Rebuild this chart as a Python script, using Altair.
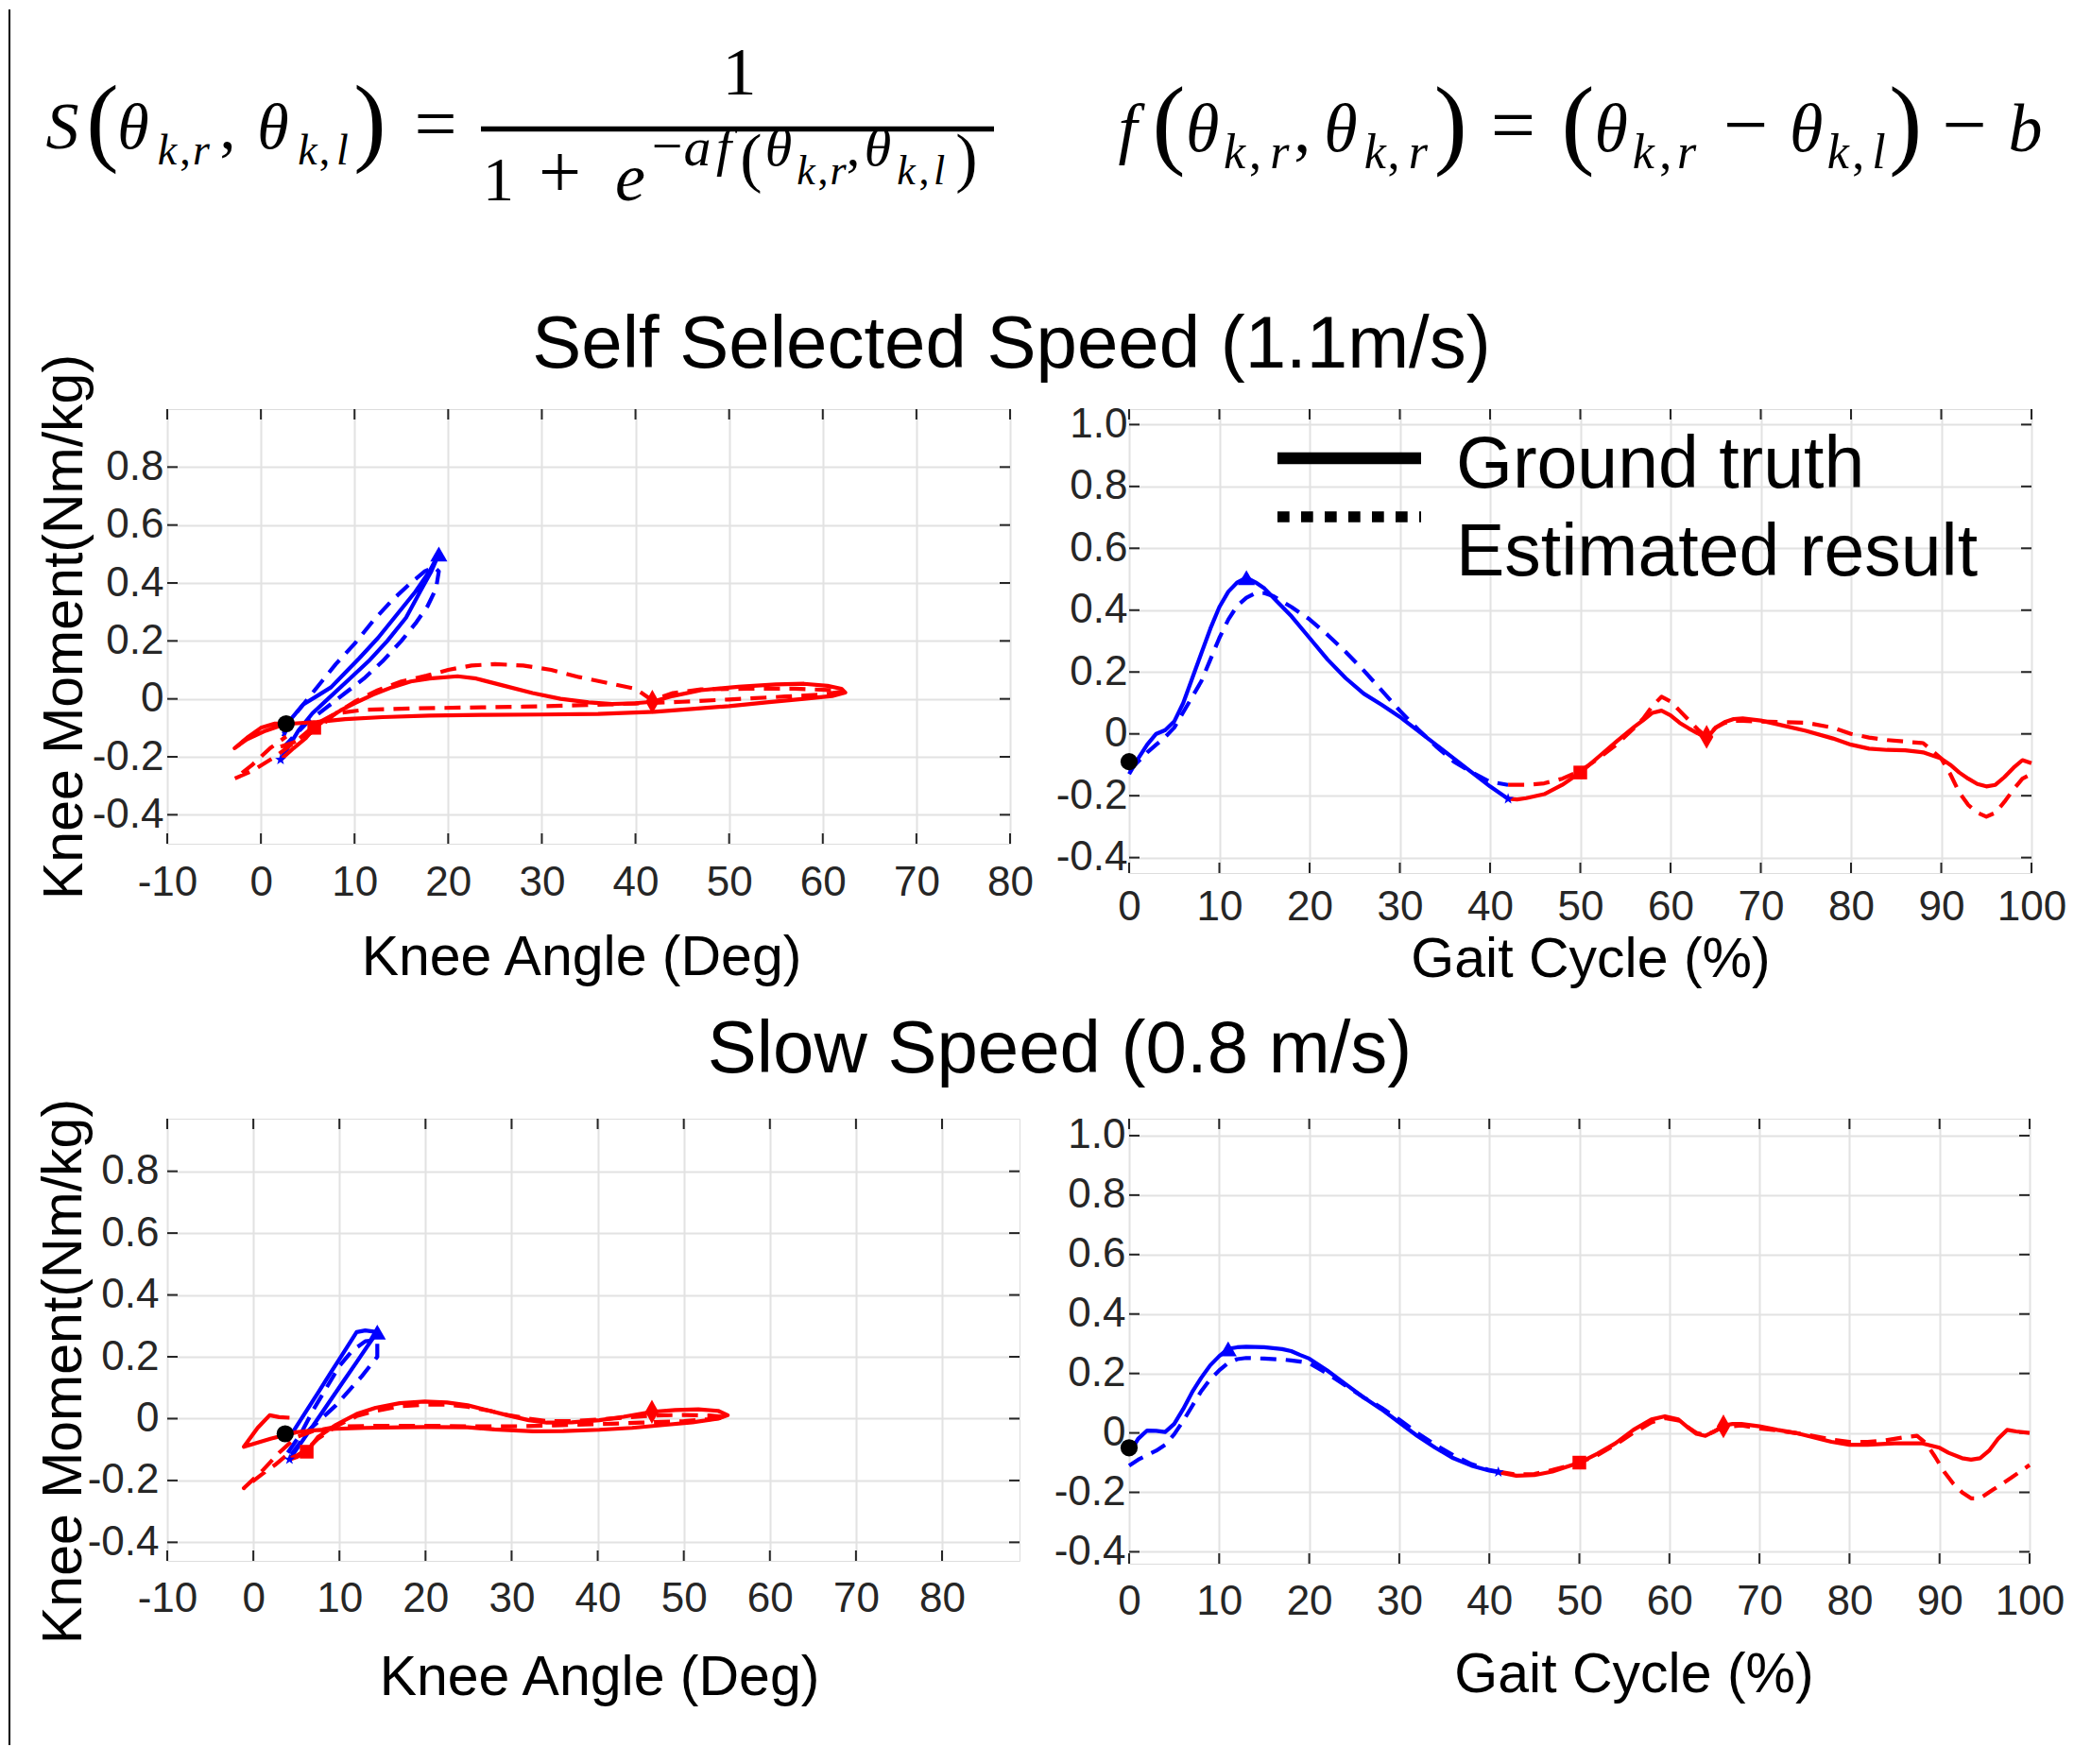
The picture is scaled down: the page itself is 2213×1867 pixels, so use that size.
import altair as alt
import pandas as pd

SANS = "Liberation Sans"
SERIF = "Liberation Serif"
BLUE = "#0000ff"
RED = "#ff0000"
INK = "#262626"
GRID = "#e2e2e2"
FRAME = "#595959"
DASH = [17, 10]
LINE_W = 4.2

# ---------------- Self selected speed (1.1 m/s): moment vs gait cycle ----------------
SS_GAIT_BLUE_X = [0, 1, 2, 3, 4, 5, 6, 7, 8, 9, 10, 11, 12, 13, 14, 15, 16, 18, 20, 22,
                  24, 26, 28, 30, 32, 34, 36, 38, 40, 42]
SS_GT_BLUE = [-0.13, -0.08, -0.035, 0.0, 0.012, 0.04, 0.10, 0.18, 0.26, 0.34, 0.41, 0.46,
              0.49, 0.505, 0.49, 0.47, 0.44, 0.38, 0.31, 0.24, 0.18, 0.13, 0.094, 0.055,
              0.01, -0.035, -0.08, -0.125, -0.17, -0.21]
SS_EST_BLUE = [-0.12, -0.09, -0.06, -0.035, -0.01, 0.02, 0.07, 0.12, 0.17, 0.24, 0.31, 0.37,
               0.415, 0.44, 0.455, 0.455, 0.445, 0.41, 0.37, 0.32, 0.265, 0.205, 0.14, 0.075,
               0.015, -0.04, -0.09, -0.125, -0.155, -0.165]
SS_GAIT_RED_X = [42, 43, 44, 46, 48, 50, 52, 54, 56, 57, 58, 59, 60, 61, 62, 63, 64, 65, 66, 67,
                 68, 70, 72, 75, 78, 80, 82, 84, 86, 88, 90, 91, 92, 93, 94, 95, 96, 97, 98, 99, 100]
SS_GT_RED = [-0.21, -0.212, -0.208, -0.195, -0.165, -0.125, -0.075, -0.025, 0.023, 0.045,
             0.068, 0.075, 0.06, 0.036, 0.018, 0.002, -0.015, 0.02, 0.038, 0.048,
             0.05, 0.043, 0.03, 0.01, -0.015, -0.035, -0.048, -0.052, -0.053, -0.06,
             -0.08, -0.1, -0.125, -0.145, -0.162, -0.17, -0.165, -0.14, -0.11, -0.085, -0.095]
SS_EST_RED = [-0.165, -0.165, -0.165, -0.16, -0.145, -0.12, -0.08, -0.035, 0.02, 0.05,
              0.09, 0.12, 0.105, 0.075, 0.045, 0.015, -0.01, 0.02, 0.035, 0.042,
              0.042, 0.04, 0.038, 0.036, 0.02, 0.0, -0.012, -0.02, -0.025, -0.03,
              -0.08, -0.13, -0.19, -0.23, -0.255, -0.268, -0.255, -0.22, -0.18, -0.145, -0.13]
SS_GAIT_MARK_X = [0, 13, 42, 50, 64]
SS_GAIT_MARK_Y = [-0.09, 0.505, -0.21, -0.125, -0.01]

# ---------------- Self selected speed: moment vs knee angle ----------------
SS_ANG_GT_BLUE_X = [2.4, 3.2, 4.5, 6, 7.5, 9, 10.5, 12.5, 14.5, 16.5, 18, 19,
                    18.2, 17, 15.5, 13.5, 11.5, 9.5, 7.5, 5.5, 4, 2.1]
SS_ANG_GT_BLUE_Y = [-0.13, -0.07, -0.02, 0.01, 0.04, 0.09, 0.14, 0.21, 0.29, 0.37, 0.44, 0.50,
                    0.44, 0.37, 0.28, 0.2, 0.13, 0.07, 0.01, -0.05, -0.11, -0.21]
SS_ANG_EST_BLUE_X = [2.4, 3.5, 5, 6.5, 8, 10, 12, 14, 16, 17.5, 18.5, 19, 18.7, 17.8, 16.5, 15,
                     13, 11, 9, 7, 5, 3.5, 2.5]
SS_ANG_EST_BLUE_Y = [-0.12, -0.06, 0.0, 0.06, 0.12, 0.19, 0.27, 0.34, 0.40, 0.44, 0.455, 0.44,
                     0.38, 0.32, 0.26, 0.2, 0.13, 0.07, 0.02, -0.03, -0.08, -0.13, -0.165]
SS_ANG_GT_RED_X = [2.1, 3.5, 4.8, 5.7, 7, 8.5, 10, 12, 14, 16, 18, 21, 23, 26, 29, 32, 35, 37.5,
                   40, 41.8, 44, 47, 51, 55, 58, 60.5, 62, 62.4, 61, 58, 54, 50, 46, 42, 36, 30,
                   24, 18, 13, 9, 6, 3.5, 1.5, 0, -1.5, -2.8, -1.5, 0.5, 2.7]
SS_ANG_GT_RED_Y = [-0.21, -0.17, -0.135, -0.10, -0.07, -0.04, -0.015, 0.015, 0.04, 0.06, 0.07,
                   0.078, 0.07, 0.045, 0.02, 0.0, -0.012, -0.018, -0.015, -0.01, 0.01, 0.03,
                   0.042, 0.05, 0.052, 0.045, 0.035, 0.022, 0.01, 0.0, -0.012, -0.025, -0.035,
                   -0.045, -0.052, -0.054, -0.055, -0.058, -0.063, -0.07, -0.08, -0.085, -0.085,
                   -0.1, -0.135, -0.17, -0.14, -0.11, -0.086]
SS_ANG_EST_RED_X = [2.1, 3.5, 5, 6.5, 8, 10, 12.5, 15, 17.7, 20, 22.5, 25, 28, 31, 34, 37, 40,
                    41.8, 44, 47, 52, 57, 61, 62, 60, 56, 50, 45, 40, 34, 28, 22, 16, 11, 8, 6,
                    4, 1.5, -1, -2.8, -1, 1, 2.7]
SS_ANG_EST_RED_Y = [-0.165, -0.15, -0.125, -0.09, -0.05, -0.01, 0.03, 0.06, 0.08, 0.10, 0.115,
                    0.12, 0.115, 0.1, 0.075, 0.055, 0.035, -0.005, 0.02, 0.033, 0.035, 0.035,
                    0.03, 0.025, 0.015, 0.008, -0.002, -0.01, -0.016, -0.022, -0.027, -0.03,
                    -0.033, -0.038, -0.05, -0.085, -0.14, -0.2, -0.25, -0.275, -0.23, -0.17, -0.13]
SS_ANG_MARK_X = [2.7, 19, 2.1, 5.7, 41.8]
SS_ANG_MARK_Y = [-0.086, 0.50, -0.21, -0.10, -0.01]

# ---------------- Slow speed (0.8 m/s): moment vs gait cycle ----------------
SL_GAIT_BLUE_X = [0, 1, 2, 3, 4, 5, 6, 7, 8, 9, 10, 11, 12, 13, 15, 17, 18, 19, 20, 22,
                  24, 26, 28, 30, 32, 34, 36, 38, 40, 41]
SL_GT_BLUE = [-0.07, -0.02, 0.008, 0.007, 0.003, 0.03, 0.08, 0.137, 0.185, 0.227,
              0.258, 0.283, 0.288, 0.29, 0.288, 0.282, 0.275, 0.262, 0.25, 0.21,
              0.165, 0.12, 0.08, 0.035, -0.01, -0.05, -0.085, -0.11, -0.127, -0.132]
SL_EST_BLUE = [-0.11, -0.09, -0.075, -0.06, -0.04, -0.005, 0.04, 0.09, 0.14, 0.18,
               0.21, 0.235, 0.248, 0.252, 0.25, 0.247, 0.244, 0.24, 0.235, 0.2,
               0.16, 0.12, 0.085, 0.045, 0.0, -0.04, -0.075, -0.105, -0.125, -0.13]
SL_GAIT_RED_X = [41, 43, 45, 47, 50, 52, 54, 56, 58, 59.5, 61, 62, 63, 64, 65, 66, 67, 68, 70, 72,
                 74, 76, 78, 80, 82, 85, 88, 90, 91, 92.5, 93.5, 94.5, 95.5, 96.5, 97.5, 98.5, 100]
SL_GT_RED = [-0.132, -0.144, -0.142, -0.13, -0.1, -0.07, -0.035, 0.01, 0.045, 0.056,
             0.045, 0.02, -0.003, -0.01, 0.005, 0.025, 0.03, 0.03, 0.022, 0.01,
             0.0, -0.015, -0.03, -0.04, -0.04, -0.035, -0.035, -0.05, -0.067, -0.085,
             -0.09, -0.085, -0.06, -0.02, 0.01, 0.005, 0.0]
SL_GAIT_RED_EST_X = [41, 43, 45, 47, 50, 52, 54, 56, 58, 59.5, 61, 62, 63, 64, 65, 66, 68, 70, 72,
                     74, 76, 78, 80, 82, 84, 86, 87.5, 88.5, 89.5, 90.5, 91.5, 92.5, 93.5, 94.5,
                     96, 98, 100]
SL_EST_RED = [-0.13, -0.14, -0.138, -0.125, -0.1, -0.075, -0.04, 0.0, 0.035, 0.05,
              0.042, 0.02, 0.0, -0.008, 0.005, 0.02, 0.025, 0.015, 0.008, 0.0,
              -0.01, -0.022, -0.03, -0.03, -0.025, -0.015, -0.01, -0.035, -0.08, -0.13,
              -0.17, -0.2, -0.22, -0.22, -0.19, -0.15, -0.108]
SL_GAIT_MARK_X = [0, 11, 41, 50, 66]
SL_GAIT_MARK_Y = [-0.05, 0.283, -0.132, -0.10, 0.022]

# ---------------- Slow speed: moment vs knee angle ----------------
SL_ANG_GT_BLUE_X = [4, 5, 6, 7.5, 9, 10.5, 12, 13, 14.4, 13.2, 12, 10.5, 9, 7.5, 6, 4.2]
SL_ANG_GT_BLUE_Y = [-0.07, -0.026, 0.018, 0.083, 0.149, 0.214, 0.28, 0.285, 0.28,
                    0.232, 0.183, 0.122, 0.061, 0.0, -0.06, -0.132]
SL_ANG_EST_BLUE_X = [4, 5.5, 7, 8.5, 10, 11.5, 13, 14.4, 14.4, 12.6, 9.6, 6.5, 4.2]
SL_ANG_EST_BLUE_Y = [-0.11, -0.05, 0.03, 0.1, 0.17, 0.22, 0.25, 0.255, 0.2, 0.137, 0.043,
                     -0.036, -0.125]
SL_ANG_GT_RED_X = [4.2, 5, 6.2, 7.5, 9.6, 12, 14.2, 17, 19.9, 22.5, 24.9, 27.5, 29.5, 32, 34.1,
                   37, 40.2, 43, 46.3, 49, 51.7, 54, 55.1, 54, 51, 47.9, 44, 40.2, 36, 32.5,
                   28, 24.9, 20, 17.2, 13, 9.6, 7, 5, 2, -1.1, 0.5, 1.9, 3, 4.2]
SL_ANG_GT_RED_Y = [-0.132, -0.125, -0.107, -0.06, -0.02, 0.015, 0.035, 0.05, 0.055, 0.052,
                   0.043, 0.025, 0.011, -0.005, -0.013, -0.012, -0.005, 0.006, 0.022, 0.028,
                   0.03, 0.025, 0.011, 0.0, -0.012, -0.02, -0.03, -0.036, -0.04, -0.041,
                   -0.035, -0.028, -0.027, -0.028, -0.03, -0.033, -0.038, -0.044, -0.065,
                   -0.091, -0.03, 0.011, 0.005, 0.003]
SL_ANG_EST_RED_X = [4.2, 5, 6.2, 7.5, 9.6, 12, 14.2, 17, 19.9, 22.5, 24.9, 27.5, 29.5, 32, 34.1,
                    37, 40.2, 43, 46.3, 50, 53, 55, 53, 50, 45, 40, 35, 30, 25, 20, 15, 10, 7,
                    5, 3, 1, -1.1, 1, 2.5, 4]
SL_ANG_EST_RED_Y = [-0.13, -0.12, -0.1, -0.065, -0.025, 0.008, 0.025, 0.04, 0.045, 0.045,
                    0.038, 0.025, 0.012, 0.0, -0.008, -0.008, -0.003, 0.003, 0.01, 0.012,
                    0.01, 0.005, -0.002, -0.008, -0.013, -0.018, -0.022, -0.025, -0.025,
                    -0.023, -0.023, -0.025, -0.04, -0.06, -0.11, -0.17, -0.225, -0.18, -0.15,
                    -0.115]
SL_ANG_MARK_X = [3.7, 14.4, 4.2, 6.2, 46.3]
SL_ANG_MARK_Y = [-0.049, 0.28, -0.132, -0.107, 0.022]

# ---------------- ticks / texts ----------------
ANGLE_TICKS = [-10, 0, 10, 20, 30, 40, 50, 60, 70, 80]
GAIT_TICKS = [0, 10, 20, 30, 40, 50, 60, 70, 80, 90, 100]
ANGLE_MOMENT_TICKS = [-0.4, -0.2, 0, 0.2, 0.4, 0.6, 0.8]
GAIT_MOMENT_TICKS = [-0.4, -0.2, 0, 0.2, 0.4, 0.6, 0.8, 1.0]
TITLE_SS = "Self Selected Speed (1.1m/s)"
TITLE_SL = "Slow Speed (0.8 m/s)"
X_TITLE_ANGLE = "Knee Angle (Deg)"
X_TITLE_GAIT = "Gait Cycle (%)"
Y_TITLE = "Knee Moment(Nm/kg)"
LEGEND_LABELS = ["Ground truth", "Estimated result"]

# marker styles: start, peak, end of stance, mid swing, swing point
STAR = ("M0,-1L0.235,-0.324L0.951,-0.309L0.38,0.124L0.588,0.809L0,0.4L-0.588,0.809"
        "L-0.38,0.124L-0.951,-0.309L-0.235,-0.324Z")
TALL_DIAMOND = "M0,-1.6L0.9,0L0,1.6L-0.9,0Z"
MARK_STYLE = [("circle", "black", 330), ("triangle-up", BLUE, 330), (STAR, BLUE, 150),
              ("square", RED, 210), (TALL_DIAMOND, RED, 250)]

# formula glyph layout (page pixel positions: centre x, baseline y, font size, italic)
FORMULA = [
    ("S", 65, 155, 70, 1), ("(", 107.5, 160, 103, 0), ("θ", 140, 155, 68, 1),
    ("k", 176, 172, 46, 1), (",", 195, 172, 46, 0), ("r", 212, 172, 46, 1),
    (",", 240, 155, 68, 0), ("θ", 288, 155, 68, 1), ("k", 324.5, 172, 46, 1),
    (",", 342.5, 172, 46, 0), ("l", 361.5, 172, 46, 1), (")", 390.5, 160, 103, 0),
    ("=", 460, 156, 80, 0),
    ("1", 781.5, 98, 72, 0),
    ("1", 526.5, 210, 66, 0), ("+", 591.5, 207, 80, 0), ("e", 666, 210, 72, 1),
    ("−", 705, 172, 58, 0), ("a", 737, 173, 58, 1), ("f", 765, 173, 58, 1),
    ("(", 794, 188, 70, 0), ("θ", 823, 173, 58, 1), ("k", 852, 193, 44, 1),
    (",", 870, 193, 44, 0), ("r", 886, 193, 44, 1), (",", 902, 173, 58, 0),
    ("θ", 928, 173, 58, 1), ("k", 958, 193, 44, 1), (",", 977, 193, 44, 0),
    ("l", 993, 193, 44, 1), (")", 1022, 188, 70, 0),
    ("f", 1192.5, 158, 72, 1), ("(", 1236, 163, 105, 0), ("θ", 1271.7, 158, 72, 1),
    ("k", 1305.5, 176, 52, 1), (",", 1327.5, 176, 52, 0), ("r", 1353.3, 176, 52, 1),
    (",", 1377.3, 158, 72, 0), ("θ", 1418, 158, 72, 1), ("k", 1454.2, 176, 52, 1),
    (",", 1474, 176, 52, 0), ("r", 1499.8, 176, 52, 1), (")", 1534.2, 163, 105, 0),
    ("=", 1600.5, 159, 84, 0), ("(", 1669, 163, 105, 0), ("θ", 1704.2, 158, 72, 1),
    ("k", 1738.3, 176, 52, 1), (",", 1761.7, 176, 52, 0), ("r", 1784.2, 176, 52, 1),
    ("−", 1846.7, 158, 84, 0), ("θ", 1910.8, 158, 72, 1), ("k", 1944.2, 176, 52, 1),
    (",", 1965.8, 176, 52, 0), ("l", 1987.5, 176, 52, 1), (")", 2015.8, 163, 105, 0),
    ("−", 2078.3, 158, 84, 0), ("b", 2142.5, 158, 72, 1),
]

XLAB = "(datum.value < 0 ? '-' : '') + format(abs(datum.value), 'd')"
YLAB = "datum.value == 0 ? '0' : (datum.value < 0 ? '-' : '') + format(abs(datum.value), '.1f')"

# panel placement (page px) of the top-left plot frame
ORIGIN_X, ORIGIN_Y = 176, 431


def text_layer(txt, x, y, size, font=SANS, italic=False, align="left", color="black"):
    kw = dict(font=font, fontSize=size, align=align, baseline="alphabetic", color=color)
    if italic:
        kw["fontStyle"] = "italic"
    return alt.Chart(pd.DataFrame({"t": [txt]})).mark_text(**kw).encode(
        x=alt.value(x), y=alt.value(y), text="t:N")


def panel(width, height, xdom, ydom, xticks, yticks, lines, mark_x, mark_y,
          xlab_pad, ylab_pad, xtitle, xtitle_xy, ytitle=None, ytitle_xy=None, extras=()):
    xsc = alt.Scale(domain=xdom, nice=False, zero=False)
    ysc = alt.Scale(domain=ydom, nice=False, zero=False)
    common = dict(grid=True, gridColor=GRID, gridWidth=2, domain=False, ticks=False, tickSize=0,
                  labelFont=SANS, labelFontSize=44, labelColor=INK, labelFlush=False,
                  labelOverlap=False, titleFont=SANS, titleFontSize=59,
                  titleFontWeight="normal", titleColor="black", titleAlign="center",
                  titleBaseline="alphabetic")
    xax = alt.Axis(values=xticks, labelExpr=XLAB, labelPadding=xlab_pad, labelBaseline="middle",
                   title=xtitle, titleX=xtitle_xy[0], titleY=xtitle_xy[1], titleAngle=0, **common)
    if ytitle:
        yax = alt.Axis(values=yticks, labelExpr=YLAB, labelPadding=ylab_pad, title=ytitle,
                       titleX=ytitle_xy[0], titleY=ytitle_xy[1], titleAngle=270, **common)
    else:
        yax = alt.Axis(values=yticks, labelExpr=YLAB, labelPadding=ylab_pad, title=None, **common)

    def X(f):
        return alt.X(f, type="quantitative", scale=xsc, axis=xax)

    def Y(f):
        return alt.Y(f, type="quantitative", scale=ysc, axis=yax)

    yt = pd.DataFrame({"v": yticks})
    xt = pd.DataFrame({"v": xticks})
    tk = dict(color=INK, strokeWidth=2)
    layers = [
        alt.Chart(yt).mark_rule(**tk).encode(y=Y("v"), x=alt.value(0), x2=alt.value(11)),
        alt.Chart(yt).mark_rule(**tk).encode(y=Y("v"), x=alt.value(width - 11), x2=alt.value(width)),
        alt.Chart(xt).mark_rule(**tk).encode(x=X("v"), y=alt.value(height - 11), y2=alt.value(height)),
        alt.Chart(xt).mark_rule(**tk).encode(x=X("v"), y=alt.value(0), y2=alt.value(11)),
    ]
    for xs, ys, color, dashed in lines:
        df = pd.DataFrame({"x": xs, "y": ys, "i": list(range(len(xs)))})
        kw = dict(color=color, strokeWidth=LINE_W, strokeJoin="round")
        if dashed:
            kw["strokeDash"] = DASH
        layers.append(alt.Chart(df).mark_line(**kw).encode(x=X("x"), y=Y("y"), order="i:Q"))
    for k, (shape, color, size) in enumerate(MARK_STYLE):
        df = pd.DataFrame({"x": [mark_x[k]], "y": [mark_y[k]]})
        layers.append(alt.Chart(df).mark_point(shape=shape, filled=True, color=color, size=size,
                                               opacity=1, strokeWidth=0)
                      .encode(x=X("x"), y=Y("y")))
    layers.extend(extras)
    return alt.layer(*layers).properties(width=width, height=height)


# ---- extras for top-left: border, formula, row title ----
tl_extras = [
    alt.Chart(pd.DataFrame({"t": [0]})).mark_rule(color="black", strokeWidth=2).encode(
        x=alt.value(-167), y=alt.value(-423), y2=alt.value(1414)),
    alt.Chart(pd.DataFrame({"t": [0]})).mark_rule(color="black", strokeWidth=5.6).encode(
        x=alt.value(508 - ORIGIN_X), x2=alt.value(1051 - ORIGIN_X), y=alt.value(134.5 - ORIGIN_Y)),
    text_layer(TITLE_SS, 1069.5 - ORIGIN_X, 386.7 - ORIGIN_Y, 78, align="center"),
]
for g, cx, by, sz, it in FORMULA:
    tl_extras.append(text_layer(g, cx - ORIGIN_X, by - ORIGIN_Y, sz, font=SERIF,
                                italic=bool(it), align="center"))

TR_X = 1194
tr_extras = [
    alt.Chart(pd.DataFrame({"t": [0]})).mark_rule(color="black", strokeWidth=12.6).encode(
        x=alt.value(1351 - TR_X), x2=alt.value(1503 - TR_X), y=alt.value(483 - ORIGIN_Y)),
    alt.Chart(pd.DataFrame({"t": [0]})).mark_rule(color="black", strokeWidth=11.7,
                                                  strokeDash=[12.7, 12.3]).encode(
        x=alt.value(1351 - TR_X), x2=alt.value(1503 - TR_X), y=alt.value(545 - ORIGIN_Y)),
    text_layer(LEGEND_LABELS[0], 1540 - TR_X, 514 - ORIGIN_Y, 77),
    text_layer(LEGEND_LABELS[1], 1540 - TR_X, 606.7 - ORIGIN_Y, 77),
]

ROW2_Y = 1182
bl_extras = [text_layer(TITLE_SL, 1120.5 - ORIGIN_X, 1133 - ROW2_Y, 78, align="center")]

tl = panel(892, 460, [-10, 80], [-0.5, 1.0], ANGLE_TICKS, ANGLE_MOMENT_TICKS,
           [(SS_ANG_GT_BLUE_X, SS_ANG_GT_BLUE_Y, BLUE, False),
            (SS_ANG_EST_BLUE_X, SS_ANG_EST_BLUE_Y, BLUE, True),
            (SS_ANG_GT_RED_X, SS_ANG_GT_RED_Y, RED, False),
            (SS_ANG_EST_RED_X, SS_ANG_EST_RED_Y, RED, True)],
           SS_ANG_MARK_X, SS_ANG_MARK_Y, 41.5, 4,
           X_TITLE_ANGLE, (438, 138.5), Y_TITLE, (-91, 230), tl_extras)

tr = panel(955, 491, [0, 100], [-0.45, 1.05], GAIT_TICKS, GAIT_MOMENT_TICKS,
           [(SS_GAIT_BLUE_X, SS_GT_BLUE, BLUE, False),
            (SS_GAIT_BLUE_X, SS_EST_BLUE, BLUE, True),
            (SS_GAIT_RED_X, SS_GT_RED, RED, False),
            (SS_GAIT_RED_X, SS_EST_RED, RED, True)],
           SS_GAIT_MARK_X, SS_GAIT_MARK_Y, 36, 2,
           X_TITLE_GAIT, (488, 109), extras=tr_extras)

bl = panel(902, 468, [-10, 89], [-0.46, 0.97], ANGLE_TICKS, ANGLE_MOMENT_TICKS,
           [(SL_ANG_GT_BLUE_X, SL_ANG_GT_BLUE_Y, BLUE, False),
            (SL_ANG_EST_BLUE_X, SL_ANG_EST_BLUE_Y, BLUE, True),
            (SL_ANG_GT_RED_X, SL_ANG_GT_RED_Y, RED, False),
            (SL_ANG_EST_RED_X, SL_ANG_EST_RED_Y, RED, True)],
           SL_ANG_MARK_X, SL_ANG_MARK_Y, 40.5, 9,
           X_TITLE_ANGLE, (457, 141), Y_TITLE, (-92, 267), bl_extras)

br = panel(953, 471, [0, 100], [-0.44, 1.057], GAIT_TICKS, GAIT_MOMENT_TICKS,
           [(SL_GAIT_BLUE_X, SL_GT_BLUE, BLUE, False),
            (SL_GAIT_BLUE_X, SL_EST_BLUE, BLUE, True),
            (SL_GAIT_RED_X, SL_GT_RED, RED, False),
            (SL_GAIT_RED_EST_X, SL_EST_RED, RED, True)],
           SL_GAIT_MARK_X, SL_GAIT_MARK_Y, 40, 4,
           X_TITLE_GAIT, (534, 135))

chart = alt.concat(tl, tr, bl, br, columns=2, spacing={"row": 260, "column": 116},
                   bounds="flush", align="each").properties(
    padding={"left": 0, "top": 0, "right": 5, "bottom": 5}
).configure_view(stroke=FRAME, strokeWidth=2.5).configure(background="white")

chart.save("out.html", embed_options={"renderer": "svg", "actions": False})
